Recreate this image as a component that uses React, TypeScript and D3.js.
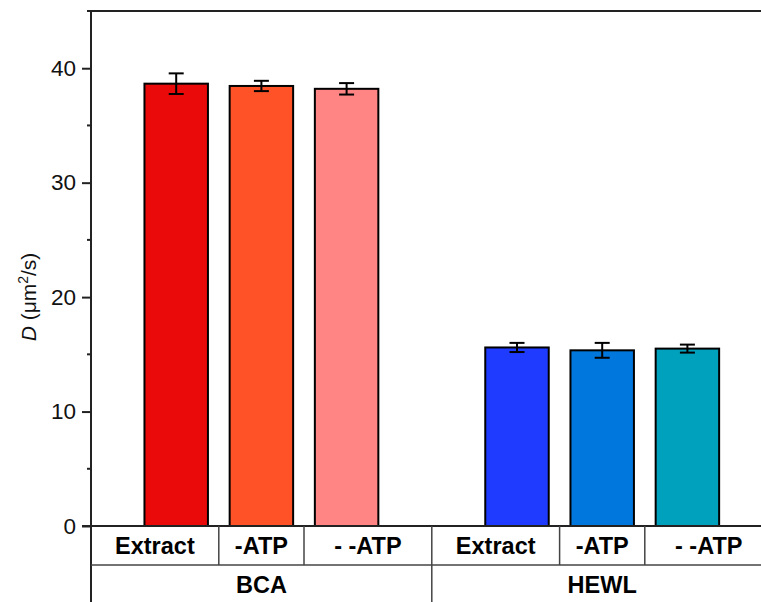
import * as d3 from "d3";
import { useEffect, useRef } from "react";

const groups = ["BCA", "HEWL"];
const conditions = ["Extract", "-ATP", "- -ATP"];
const bcaMean = [38.65, 38.45, 38.2];
const bcaErr = [0.9, 0.45, 0.5];
const hewlMean = [15.6, 15.35, 15.5];
const hewlErr = [0.4, 0.65, 0.35];
const bcaColors = ["#EA0A0A", "#FF5227", "#FF8585"];
const hewlColors = ["#1F3BFF", "#0077DD", "#00A1BD"];
const yTicks = [0, 10, 20, 30, 40];
const yMinorTicks = [5, 15, 25, 35];

type Bar = { group: number; cond: number; mean: number; err: number; color: string };

const App = () => {
  const ref = useRef<SVGSVGElement | null>(null);

  useEffect(() => {
    if (!ref.current) return;
    const svg = d3.select(ref.current);
    svg.selectAll("*").remove();

    const left = 91,
      top = 11,
      bottom = 526,
      unit = 85.2;

    // slots 1..3 for BCA, 5..7 for HEWL
    const x = d3.scaleLinear().domain([0, 8]).range([left, left + 8 * unit]);
    const y = d3.scaleLinear().domain([0, 45]).range([bottom, top]);

    const bars: Bar[] = [];
    groups.forEach((g, gi) => {
      const means = gi === 0 ? bcaMean : hewlMean;
      const errs = gi === 0 ? bcaErr : hewlErr;
      const cols = gi === 0 ? bcaColors : hewlColors;
      conditions.forEach((c, ci) => {
        bars.push({ group: gi, cond: ci, mean: means[ci], err: errs[ci], color: cols[ci] });
      });
    });
    const slot = (b: Bar) => 1 + b.group * 4 + b.cond;
    const bw = 0.745 * unit;
    // table cells: [0,1.5], [1.5,2.5], [2.5,4] within each group
    const cellBounds = [
      [0, 1.5],
      [1.5, 2.5],
      [2.5, 4],
    ];
    const cellCenter = (b: Bar) => {
      const [a, c] = cellBounds[b.cond];
      return x(b.group * 4 + (a + c) / 2);
    };

    const font = "'Liberation Sans', Arial, sans-serif";

    // bars
    svg
      .append("g")
      .selectAll("rect")
      .data(bars)
      .enter()
      .append("rect")
      .attr("x", (d) => x(slot(d)) - bw / 2)
      .attr("y", (d) => y(d.mean))
      .attr("width", bw)
      .attr("height", (d) => y(0) - y(d.mean))
      .attr("fill", (d) => d.color)
      .attr("stroke", "#000")
      .attr("stroke-width", 2);

    // error bars
    const eg = svg.append("g").attr("stroke", "#000").attr("stroke-width", 2);
    bars.forEach((b) => {
      const cx = x(slot(b));
      eg.append("line").attr("x1", cx).attr("x2", cx).attr("y1", y(b.mean + b.err)).attr("y2", y(b.mean - b.err));
      [b.mean + b.err, b.mean - b.err].forEach((v) => {
        eg.append("line").attr("x1", cx - 7.5).attr("x2", cx + 7.5).attr("y1", y(v)).attr("y2", y(v));
      });
    });

    // y axis
    const ax = svg.append("g").attr("transform", `translate(${left},0)`);
    ax.call(
      d3
        .axisLeft(y)
        .tickValues(yTicks)
        .tickSize(9)
        .tickPadding(6)
        .tickFormat(d3.format("d"))
    );
    ax.select(".domain").remove();
    ax.selectAll(".tick line").attr("stroke", "#222").attr("stroke-width", 2);
    ax.selectAll(".tick text")
      .attr("font-family", font)
      .attr("font-size", 22.5)
      .attr("fill", "#111");
    ax.selectAll(".minor")
      .data(yMinorTicks)
      .enter()
      .append("line")
      .attr("x1", -4)
      .attr("x2", 0)
      .attr("y1", (d) => y(d))
      .attr("y2", (d) => y(d))
      .attr("stroke", "#222")
      .attr("stroke-width", 2);

    // axis lines
    svg.append("line").attr("x1", left).attr("x2", left).attr("y1", top).attr("y2", 602).attr("stroke", "#222").attr("stroke-width", 2);
    svg.append("line").attr("x1", left - 4).attr("x2", 761).attr("y1", top).attr("y2", top).attr("stroke", "#222").attr("stroke-width", 2);
    svg.append("line").attr("x1", left - 9).attr("x2", 761).attr("y1", bottom).attr("y2", bottom).attr("stroke", "#222").attr("stroke-width", 2);

    // category table
    const rowLine = 565;
    svg.append("line").attr("x1", left).attr("x2", 761).attr("y1", rowLine).attr("y2", rowLine).attr("stroke", "#444").attr("stroke-width", 1.5);
    const seps = [1.5, 2.5, 5.5, 6.5];
    seps.forEach((s) => {
      svg.append("line").attr("x1", x(s)).attr("x2", x(s)).attr("y1", bottom).attr("y2", rowLine).attr("stroke", "#444").attr("stroke-width", 1.5);
    });
    svg.append("line").attr("x1", x(4)).attr("x2", x(4)).attr("y1", bottom).attr("y2", 602).attr("stroke", "#444").attr("stroke-width", 1.5);

    svg
      .append("g")
      .selectAll("text")
      .data(bars)
      .enter()
      .append("text")
      .attr("x", (d) => cellCenter(d))
      .attr("y", 554)
      .attr("text-anchor", "middle")
      .attr("font-family", font)
      .attr("font-weight", "bold")
      .attr("font-size", 23.5)
      .text((d) => conditions[d.cond]);

    svg
      .append("g")
      .selectAll("text")
      .data(groups)
      .enter()
      .append("text")
      .attr("x", (d, i) => x(2 + i * 4))
      .attr("y", 593)
      .attr("text-anchor", "middle")
      .attr("font-family", font)
      .attr("font-weight", "bold")
      .attr("font-size", 23.5)
      .text((d) => d);

    // y title
    const t = svg
      .append("text")
      .attr("transform", `translate(36,297) rotate(-90)`)
      .attr("text-anchor", "middle")
      .attr("font-family", font)
      .attr("font-size", 21)
      .attr("fill", "#111");
    t.append("tspan").attr("font-style", "italic").text("D");
    t.append("tspan").text(" (μm");
    t.append("tspan").attr("font-size", 14).attr("dy", -8).text("2");
    t.append("tspan").attr("dy", 8).text("/s)");
  }, []);

  return (
    <svg
      ref={ref}
      width={761}
      height={602}
      style={{ position: "absolute", left: 0, top: 0, background: "#fff" }}
    />
  );
};

export default App;
